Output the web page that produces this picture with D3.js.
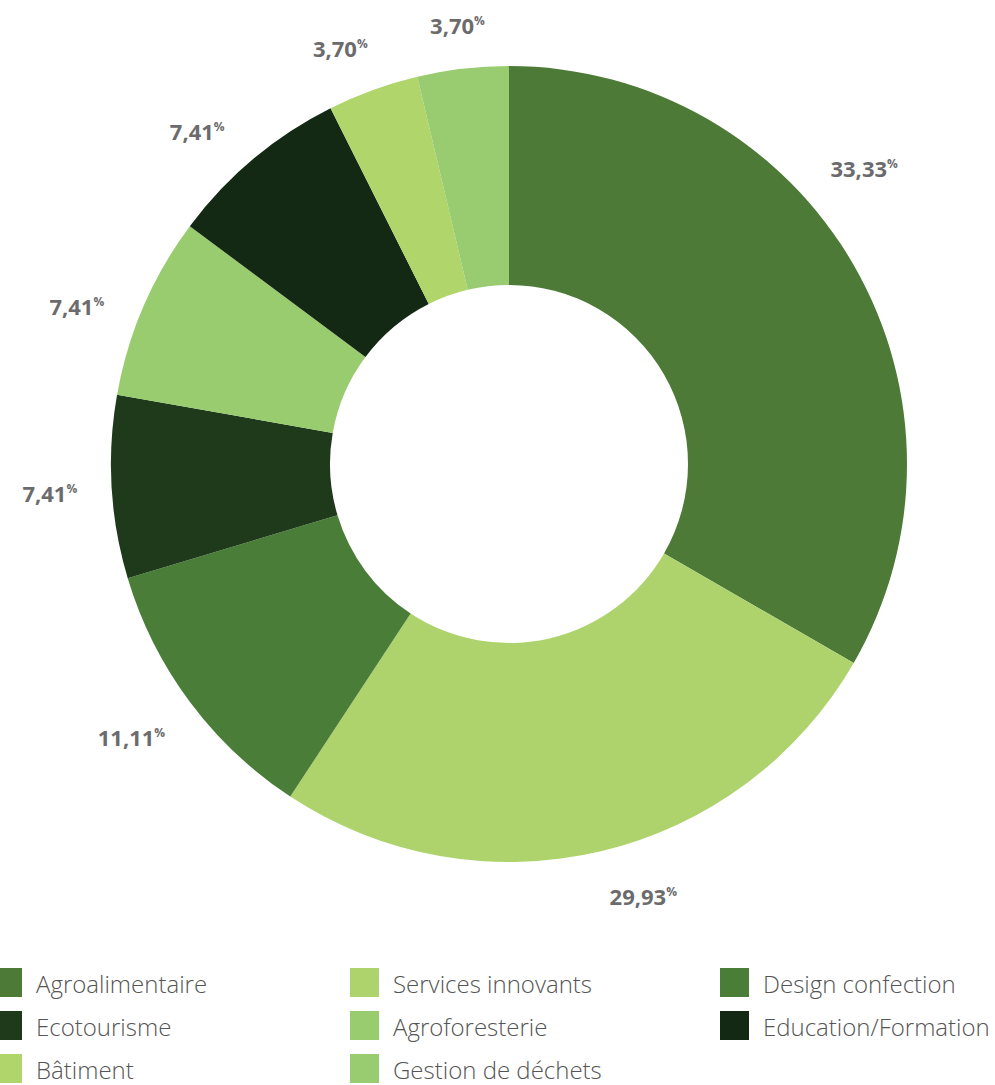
<!DOCTYPE html>
<html>
<head>
  <meta charset="utf-8">
  <style>
    body, html { margin: 0; padding: 0; background: #fff; }
    svg { display: block; }
  </style>
</head>
<body>
  <svg id="svg" width="995" height="1085"></svg>
  <script src="https://d3js.org/d3.v7.min.js"></script>
  <script>
    const categories = ["Agroalimentaire", "Services innovants", "Design confection", "Ecotourisme",
      "Agroforesterie", "Education/Formation", "Bâtiment", "Gestion de déchets"]
    const shares = [33.33, 25.93, 11.11, 7.41, 7.41, 7.41, 3.70, 3.70]
    const labels = ["33,33", "29,93", "11,11", "7,41", "7,41", "7,41", "3,70", "3,70"]
    const colors = ["#4e7a38", "#aed36c", "#4a7e38", "#1f3a1a", "#99cc6f", "#132914", "#b0d56b", "#99cc70"]
    // small hand nudges (degrees) so labels sit where the original designer put them
    const labelNudge = [-10, -4, 1, 0, -3, -3, -2, 0]

    const cx = 509, cy = 464
    const outer = 398, inner = 179

    const svg = d3.select("#svg")
    const g = svg.append("g").attr("transform", `translate(${cx},${cy})`)

    const pie = d3.pie().sort(null).value(d => d.v)
    const arcs = pie(shares.map((v, i) => ({ v, i })))
    const arc = d3.arc().innerRadius(inner).outerRadius(outer)

    g.selectAll("path.slice")
      .data(arcs)
      .join("path")
      .attr("class", "slice")
      .attr("d", arc)
      .attr("fill", d => colors[d.data.i])

    // value labels outside the ring
    const labelR = 432
    arcs.forEach(d => {
      const a = (d.startAngle + d.endAngle) / 2 + labelNudge[d.data.i] * Math.PI / 180
      const sx = Math.sin(a), sy = -Math.cos(a)
      const t = g.append("text")
        .attr("font-family", "'Open Sans', sans-serif")
        .attr("font-weight", 700)
        .attr("font-size", 22)
        .attr("fill", "#6b6b6d")
        .attr("text-anchor", "middle")
      t.append("tspan").text(labels[d.data.i])
      t.append("tspan").text("%").attr("font-size", 12).attr("dy", -9)
      const w = t.node().getBBox().width
      const h = 18
      const off = Math.abs(sx) * w / 2 + Math.abs(sy) * h / 2
      t.attr("x", sx * (labelR + off)).attr("y", sy * (labelR + off) + 11)
    })

    // legend
    const colX = [-7, 350, 720]
    const rowY = [968, 1011, 1054]
    const legend = svg.append("g")
    categories.forEach((c, i) => {
      const col = i % 3, row = Math.floor(i / 3)
      legend.append("rect")
        .attr("x", colX[col]).attr("y", rowY[row])
        .attr("width", 29).attr("height", 29)
        .attr("fill", colors[i])
      legend.append("text")
        .attr("x", colX[col] + 43).attr("y", rowY[row] + 25)
        .attr("font-family", "'Open Sans', sans-serif")
        .attr("font-weight", 300)
        .attr("font-size", 24)
        .attr("fill", "#555")
        .text(c)
    })
  </script>
</body>
</html>
